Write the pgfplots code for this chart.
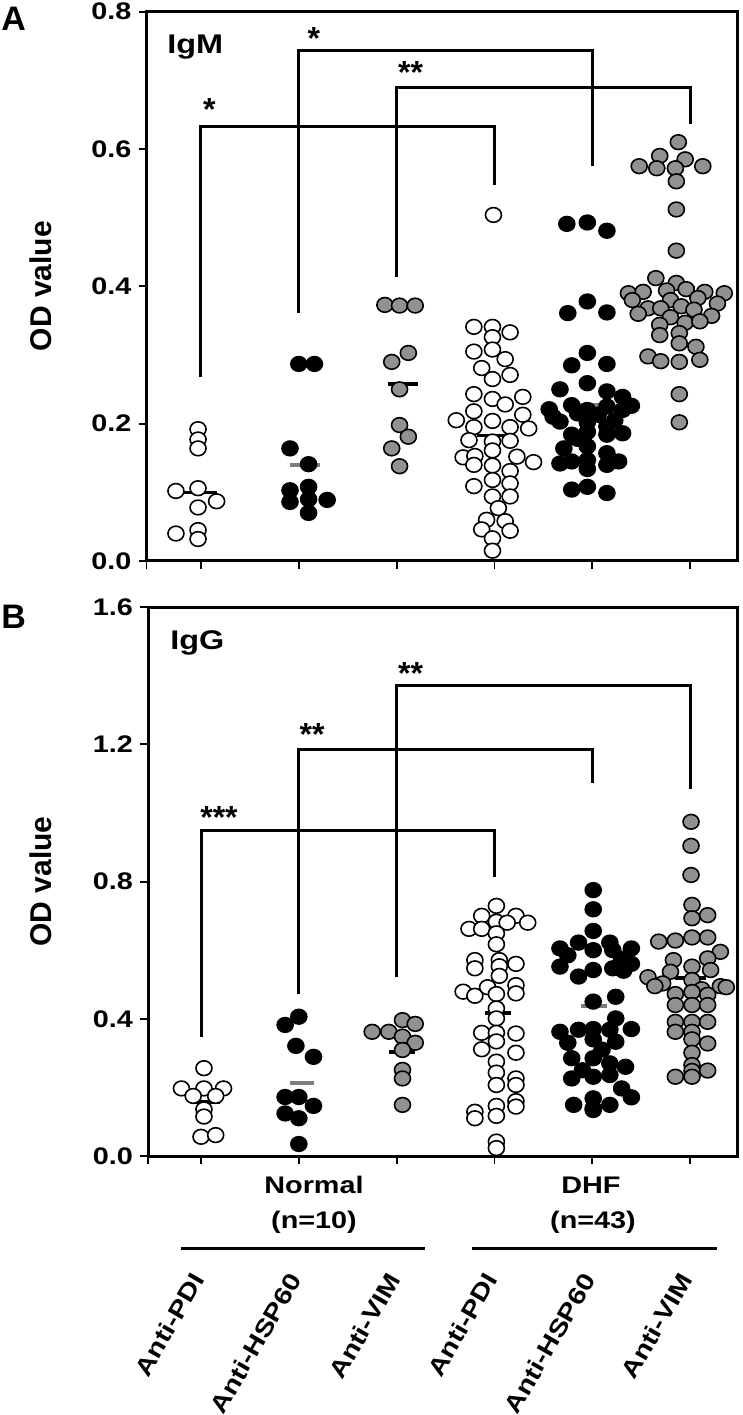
\documentclass[border=0pt]{standalone}
\usepackage{fontspec}
\setmainfont{Liberation Sans}[FakeStretch=1.2]
\newfontfamily\plainsans{Liberation Sans}
\usepackage{pgfplots}
\pgfplotsset{compat=1.18}

\definecolor{dotgray}{RGB}{145,145,145}
\definecolor{medgray}{RGB}{125,125,125}
\newcommand\tfont{\fontsize{12bp}{14bp}\selectfont\bfseries}
\newcommand\sfont{\plainsans\bfseries\fontsize{16bp}{18bp}\selectfont}

\pgfplotsset{
  dotplot/.style={
    scale only axis, clip=false,
    axis line style={line width=1.5bp},
    xtick pos=left, ytick pos=left, tick align=outside,
    major tick length=4bp,
    xticklabels={},
    ytick style={line width=1bp, black},
    xtick style={line width=0.9bp, black},
    /pgf/number format/assume math mode=true,
    yticklabel style={/pgf/number format/.cd, fixed, fixed zerofill, precision=1, /tikz/.cd, font=\tfont},
  },
  circ/.style={only marks, mark=*, mark size=4bp,
    mark options={line width=0.8bp, draw=black, fill=#1, yscale=0.92}},
  med/.style={no marks, line width=1.8bp, color=#1},
  bracket/.style={no marks, line width=1.5bp, black},
}

\begin{document}
\begin{tikzpicture}
\path[use as bounding box] (0,0) rectangle (371.5bp,-707.5bp);

% ---------- panel A: IgM ----------
\begin{axis}[dotplot, at={(73.25bp,-5.85bp)}, anchor=north west,
  width=295.25bp, height=274.65bp,
  xmin=0.443, xmax=6.48, ymin=0, ymax=0.8,
  xtick={0.443,1,2,3,4,5,6}, ytick={0,0.2,0.4,0.6,0.8}]

\addplot[bracket] coordinates {(1,0.268) (1,0.633) (4,0.633) (4,0.548)};
\addplot[bracket] coordinates {(2,0.361) (2,0.743) (5,0.743) (5,0.575)};
\addplot[bracket] coordinates {(3,0.414) (3,0.690) (6,0.690) (6,0.637)};

% Normal anti-PDI
\addplot[circ=white] coordinates {(0.97,0.192) (0.97,0.177) (0.97,0.164) (0.744,0.102) (0.97,0.106)
  (1.16,0.087) (0.97,0.078) (0.744,0.040) (0.97,0.045) (0.97,0.032)};
% Normal anti-HSP60
\addplot[circ=black] coordinates {(2.00,0.287) (2.16,0.287) (1.91,0.164) (2.10,0.141) (1.91,0.103)
  (2.10,0.108) (2.29,0.089) (1.91,0.086) (2.10,0.090) (2.10,0.070)};
% Normal anti-VIM
\addplot[circ=dotgray] coordinates {(2.88,0.373) (3.03,0.372) (3.19,0.372) (2.95,0.290) (3.12,0.303)
  (3.03,0.250) (3.03,0.198) (3.12,0.181) (2.95,0.164) (3.03,0.138)};
% DHF anti-PDI
\addplot[circ=white] coordinates {(3.99,0.504)
  (3.79,0.341) (3.98,0.341) (4.16,0.333) (3.98,0.326) (3.79,0.305) (3.98,0.308) (4.11,0.294)
  (3.87,0.281) (4.16,0.271) (3.98,0.265) (3.79,0.243) (4.29,0.239) (3.98,0.236) (4.11,0.228)
  (3.79,0.218) (4.29,0.213) (3.61,0.205) (3.98,0.204) (3.79,0.195) (4.16,0.195) (4.35,0.193)
  (3.74,0.176) (3.98,0.174) (4.16,0.175) (3.98,0.161) (3.68,0.151) (3.80,0.153) (4.23,0.152)
  (4.40,0.144) (3.79,0.140) (3.98,0.139) (4.16,0.131) (3.98,0.118) (3.79,0.109) (4.16,0.113)
  (3.98,0.094) (4.16,0.094) (4.04,0.077) (3.92,0.060) (4.11,0.058) (3.87,0.046) (4.16,0.044)
  (3.98,0.033) (3.98,0.015)};
% DHF anti-HSP60
\addplot[circ=black] coordinates {(4.74,0.491) (4.95,0.493) (5.15,0.481) (4.95,0.378) (4.75,0.361)
  (5.15,0.362) (4.95,0.303) (4.79,0.285) (5.15,0.287) (4.95,0.259) (4.67,0.250) (5.15,0.247)
  (5.31,0.239) (4.56,0.221) (4.79,0.227) (4.95,0.220) (5.15,0.225) (5.31,0.220) (5.40,0.226)
  (4.60,0.210) (4.85,0.215) (5.06,0.213) (5.23,0.205) (4.67,0.203) (4.95,0.202) (5.15,0.196)
  (4.79,0.184) (4.95,0.188) (5.31,0.186) (5.15,0.184) (4.85,0.178) (4.71,0.164) (4.95,0.167)
  (5.15,0.157) (4.67,0.142) (4.79,0.145) (4.95,0.147) (5.15,0.140) (5.27,0.145) (4.95,0.134)
  (4.79,0.104) (4.95,0.108) (5.15,0.099)};
% DHF anti-VIM
\addplot[circ=dotgray] coordinates {(5.88,0.610) (5.69,0.590) (5.95,0.585) (5.48,0.575) (5.66,0.572)
  (5.85,0.572) (6.13,0.575) (5.86,0.553) (5.86,0.512) (5.86,0.452) (5.65,0.412) (5.86,0.405)
  (5.37,0.390) (5.52,0.392) (5.76,0.394) (5.96,0.396) (6.15,0.392) (6.35,0.390)
  (5.41,0.380) (5.80,0.380) (6.08,0.383) (6.28,0.375)
  (5.57,0.368) (5.70,0.368) (5.91,0.371) (6.04,0.366) (6.22,0.357) (5.47,0.360) (5.80,0.355)
  (5.69,0.344) (5.95,0.347) (6.10,0.349) (5.69,0.329) (5.89,0.332) (5.89,0.317) (6.06,0.312)
  (5.57,0.298) (5.70,0.291) (5.89,0.290) (6.10,0.293) (5.89,0.243) (5.89,0.202)};

\addplot[med=black] coordinates {(0.83,0.100) (1.16,0.100)};
\addplot[med=medgray] coordinates {(1.91,0.140) (2.22,0.140)};
\addplot[med=black] coordinates {(2.91,0.258) (3.22,0.258)};
\addplot[med=black] coordinates {(3.82,0.183) (4.14,0.183)};
\addplot[med=medgray] coordinates {(4.75,0.227) (5.07,0.227)};
\addplot[med=black] coordinates {(5.70,0.398) (6.05,0.398)};

\node[anchor=base, inner sep=0, font=\sfont] at (axis cs:1.086,0.641) {*};
\node[anchor=base, inner sep=0, font=\sfont] at (axis cs:2.155,0.745) {*};
\node[anchor=base, inner sep=0, font=\sfont] at (axis cs:3.142,0.696) {**};
\end{axis}

% ---------- panel B: IgG ----------
\begin{axis}[dotplot, at={(74bp,-303.5bp)}, anchor=north west,
  width=294.5bp, height=274.5bp,
  xmin=0.458, xmax=6.48, ymin=0, ymax=1.6,
  xtick={0.458,1,2,3,4,5,6}, ytick={0,0.4,0.8,1.2,1.6}]

\addplot[bracket] coordinates {(1,0.346) (1,0.950) (4,0.950) (4,0.814)};
\addplot[bracket] coordinates {(2,0.472) (2,1.186) (5,1.186) (5,1.088)};
\addplot[bracket] coordinates {(3,0.523) (3,1.371) (6,1.371) (6,1.069)};

% Normal anti-PDI
\addplot[circ=white] coordinates {(1.03,0.256) (0.80,0.197) (1.03,0.197) (1.23,0.197) (0.92,0.175)
  (1.15,0.175) (1.03,0.136) (1.03,0.115) (1.00,0.056) (1.15,0.061)};
% Normal anti-HSP60
\addplot[circ=black] coordinates {(1.86,0.382) (2.00,0.406) (1.97,0.321) (2.15,0.289) (1.86,0.172)
  (2.00,0.172) (2.15,0.146) (1.86,0.124) (2.00,0.110) (2.00,0.035)};
% Normal anti-VIM
\addplot[circ=dotgray] coordinates {(2.75,0.362) (2.92,0.362) (3.06,0.396) (3.19,0.385) (3.06,0.348)
  (3.19,0.330) (3.06,0.309) (3.06,0.251) (3.06,0.226) (3.06,0.149)};
% DHF anti-PDI
\addplot[circ=white] coordinates {(4.02,0.729) (3.87,0.700) (4.22,0.700) (4.02,0.683) (4.13,0.680)
  (4.34,0.680) (3.74,0.662) (3.87,0.662) (4.02,0.649) (4.02,0.617) (3.80,0.571) (3.80,0.547)
  (4.05,0.571) (4.05,0.553) (4.22,0.560) (4.05,0.525) (3.68,0.479) (3.80,0.467) (3.93,0.492)
  (4.02,0.472) (4.22,0.498) (4.22,0.474) (4.02,0.430) (4.02,0.401) (3.87,0.359) (3.87,0.311)
  (4.02,0.359) (4.02,0.334) (4.22,0.357) (4.22,0.301) (4.02,0.275) (4.02,0.243) (4.02,0.207)
  (4.22,0.226) (4.22,0.207) (4.22,0.160) (4.02,0.146) (4.02,0.117) (4.22,0.144) (3.80,0.129)
  (3.80,0.110) (4.02,0.042) (4.02,0.023)};
% DHF anti-HSP60
\addplot[circ=black] coordinates {(5.01,0.775) (5.01,0.719) (5.01,0.656) (4.67,0.605) (4.86,0.622)
  (5.01,0.600) (5.18,0.622) (5.40,0.605) (5.21,0.600) (4.75,0.585) (5.30,0.575) (4.67,0.552)
  (4.86,0.523) (5.01,0.542) (5.21,0.547) (5.40,0.560) (5.32,0.540) (5.01,0.450) (5.24,0.464)
  (5.24,0.401) (4.67,0.362) (4.86,0.368) (5.01,0.370) (5.18,0.368) (5.40,0.370) (5.01,0.340)
  (5.24,0.333) (4.75,0.330) (5.10,0.310) (4.79,0.285) (5.01,0.285) (5.18,0.270) (5.34,0.260)
  (4.90,0.250) (4.79,0.226) (5.01,0.231) (5.18,0.236) (5.30,0.197) (5.40,0.171) (4.81,0.149)
  (5.01,0.168) (5.18,0.149) (5.01,0.139) (5.01,0.134)};
% DHF anti-VIM
\addplot[circ=dotgray] coordinates {(6.01,0.974) (6.01,0.904) (6.01,0.819) (6.02,0.732) (6.02,0.693)
  (6.18,0.702) (6.02,0.637) (5.68,0.625) (5.85,0.628) (6.18,0.637) (6.31,0.595) (5.83,0.571)
  (6.02,0.552) (6.18,0.576) (5.80,0.537) (6.21,0.542) (5.57,0.521) (5.72,0.503) (5.64,0.495)
  (6.02,0.513) (6.31,0.495) (6.37,0.492) (5.85,0.472) (6.12,0.486) (6.02,0.478) (6.18,0.470)
  (6.02,0.440) (6.18,0.440) (5.85,0.440) (5.85,0.391) (6.02,0.391) (6.18,0.391) (6.02,0.362)
  (5.85,0.362) (6.02,0.340) (6.18,0.328) (6.02,0.301) (6.02,0.265) (6.02,0.248) (5.85,0.231)
  (6.02,0.231) (6.18,0.249)};

\addplot[med=black] coordinates {(0.94,0.158) (1.19,0.158)};
\addplot[med=medgray] coordinates {(1.91,0.212) (2.16,0.212)};
\addplot[med=black] coordinates {(2.92,0.304) (3.19,0.304)};
\addplot[med=black] coordinates {(3.90,0.416) (4.17,0.416)};
\addplot[med=medgray] coordinates {(4.88,0.438) (5.15,0.438)};
\addplot[med=black] coordinates {(5.85,0.518) (6.16,0.518)};

\node[anchor=base, inner sep=0, font=\sfont] at (axis cs:1.184,0.955) {***};
\node[anchor=base, inner sep=0, font=\sfont] at (axis cs:2.135,1.196) {**};
\node[anchor=base, inner sep=0, font=\sfont] at (axis cs:3.142,1.373) {**};
\end{axis}

% ---------- labels outside the axes ----------
\node[anchor=north west, inner sep=0, font=\plainsans\bfseries\fontsize{17bp}{20bp}\selectfont] at (0.5bp,-3.5bp) {A};
\node[anchor=north west, inner sep=0, font=\plainsans\bfseries\fontsize{17bp}{20bp}\selectfont] at (0.5bp,-302.5bp) {B};
\node[anchor=north west, inner sep=0, font=\fontsize{13.5bp}{16bp}\selectfont\bfseries] at (83.5bp,-17.5bp) {IgM};
\node[anchor=north west, inner sep=0, font=\fontsize{13.5bp}{16bp}\selectfont\bfseries] at (85bp,-315bp) {IgG};
\node[rotate=90, inner sep=0, font=\plainsans\bfseries\fontsize{15bp}{18bp}\selectfont] at (20.5bp,-143bp) {OD value};
\node[rotate=90, inner sep=0, font=\plainsans\bfseries\fontsize{15bp}{18bp}\selectfont] at (20.5bp,-440.75bp) {OD value};

\node[anchor=base, inner sep=0, font=\tfont] at (157bp,-596.5bp) {Normal};
\node[anchor=base, inner sep=0, font=\tfont] at (157bp,-614bp) {(n=10)};
\node[anchor=base, inner sep=0, font=\tfont] at (295.5bp,-596.5bp) {DHF};
\node[anchor=base, inner sep=0, font=\tfont] at (296.5bp,-614bp) {(n=43)};
\draw[line width=1.5bp] (90.5bp,-624bp) -- (212.5bp,-624bp);
\draw[line width=1.5bp] (236bp,-624bp) -- (358.5bp,-624bp);

\foreach \xx/\lab in {99/Anti-PDI, 147.5/Anti-HSP60, 197/Anti-VIM, 245.5/Anti-PDI, 294.5/Anti-HSP60, 343/Anti-VIM}
  \node[anchor=east, rotate=60, inner sep=0, font=\tfont] at (\xx bp,-637.5bp) {\lab};
\end{tikzpicture}
\end{document}
